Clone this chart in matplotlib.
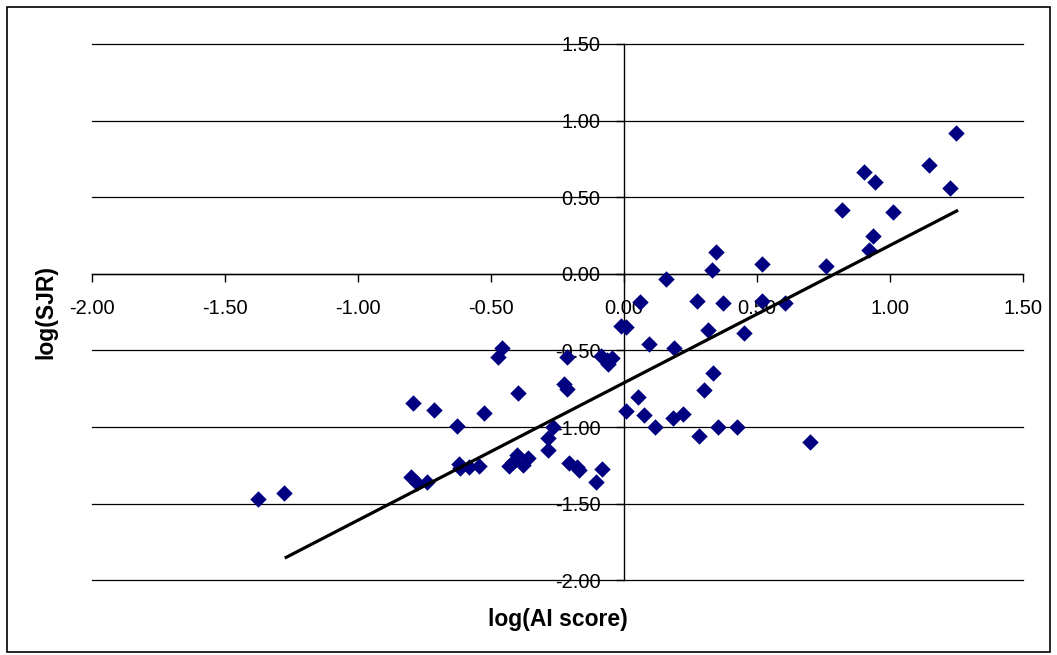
import numpy as np
import matplotlib
matplotlib.use('Agg')
import matplotlib.pyplot as plt
from matplotlib.patches import Rectangle

# log(AI score) vs log(SJR)
x_vals = [-1.377, -1.279, -0.792, -0.715, -0.629, -0.525, -0.459, -0.475, -0.397,
          -0.802, -0.779, -0.741, -0.619, -0.615, -0.584, -0.546, -0.433, -0.416,
          -0.403, -0.379, -0.360, -0.287, -0.287, -0.269, -0.224, -0.215, -0.213,
          -0.206, -0.178, -0.169, -0.105, -0.082, -0.088, -0.065, -0.059, -0.046,
          -0.012, 0.006, 0.006, 0.053, 0.076, 0.115, 0.094, 0.058, 0.346, 0.330,
          0.519, 0.158, 0.273, 0.373, 0.520, 0.603, 0.317, 0.451, 0.188, 0.336,
          0.302, 0.183, 0.223, 0.281, 0.352, 0.425, 0.700, 1.246, 1.147, 0.903,
          0.944, 1.226, 0.820, 1.009, 0.936, 0.922, 0.759]
y_vals = [-1.469, -1.432, -0.840, -0.886, -0.990, -0.909, -0.485, -0.544, -0.775,
          -1.327, -1.366, -1.356, -1.240, -1.264, -1.262, -1.251, -1.251, -1.225,
          -1.181, -1.247, -1.205, -1.072, -1.149, -0.997, -0.718, -0.753, -0.540,
          -1.236, -1.258, -1.279, -1.356, -1.275, -0.535, -0.561, -0.587, -0.550,
          -0.339, -0.350, -0.894, -0.805, -0.920, -0.997, -0.459, -0.181, 0.139, 0.026,
          0.063, -0.033, -0.178, -0.189, -0.178, -0.189, -0.370, -0.387, -0.485, -0.648,
          -0.759, -0.944, -0.916, -1.057, -0.999, -0.999, -1.099, 0.916, 0.711, 0.666,
          0.596, 0.561, 0.413, 0.403, 0.244, 0.152, 0.050]

# linear trend line end points
trend_x = [-1.27, 1.25]
trend_y = [-1.85, 0.41]

tick_vals = [-2.0, -1.5, -1.0, -0.5, 0.0, 0.5, 1.0, 1.5]

plt.rcParams['font.family'] = ['Liberation Sans', 'DejaVu Sans']

fig = plt.figure(figsize=(10.57, 6.55), dpi=100)
ax = fig.add_axes([0.087, 0.114, 0.881, 0.819])

ax.scatter(x_vals, y_vals, marker='D', s=70, color='#000080', zorder=3, linewidths=0)
ax.plot(trend_x, trend_y, color='black', lw=2.3, zorder=4)

ax.set_xlim(-2, 1.5)
ax.set_ylim(-2, 1.5)
ax.set_xticks(tick_vals)
ax.set_yticks(tick_vals)
ax.set_xticklabels(['%.2f' % v for v in tick_vals])
ax.set_yticklabels(['%.2f' % v for v in tick_vals])

# Excel style: axes cross at zero
ax.spines['left'].set_position(('data', 0))
ax.spines['bottom'].set_position(('data', 0))
ax.spines['right'].set_visible(False)
ax.spines['top'].set_visible(False)
ax.spines['left'].set_linewidth(1.0)
ax.spines['bottom'].set_linewidth(1.0)

ax.tick_params(axis='x', direction='out', length=6, width=1, pad=12, labelsize=14.5)
ax.tick_params(axis='y', direction='out', length=6, width=1, pad=11, labelsize=14.5)

ax.grid(axis='y', color='black', lw=0.9)
ax.set_axisbelow(True)
for gl in ax.get_ygridlines():
    gl.set_clip_on(False)

fig.text(0.5275, 0.054, 'log(AI score)', ha='center', va='center',
         fontsize=16.5, fontweight='bold')
fig.text(0.043, 0.524, 'log(SJR)', ha='center', va='center', rotation=90,
         fontsize=16.5, fontweight='bold')

# outer chart border
fig.patches.append(Rectangle((7 / 1057, 3 / 655), 1043 / 1057, 645 / 655,
                             transform=fig.transFigure, fill=False,
                             edgecolor='black', lw=1.2))

fig.savefig('out.png', dpi=100)
